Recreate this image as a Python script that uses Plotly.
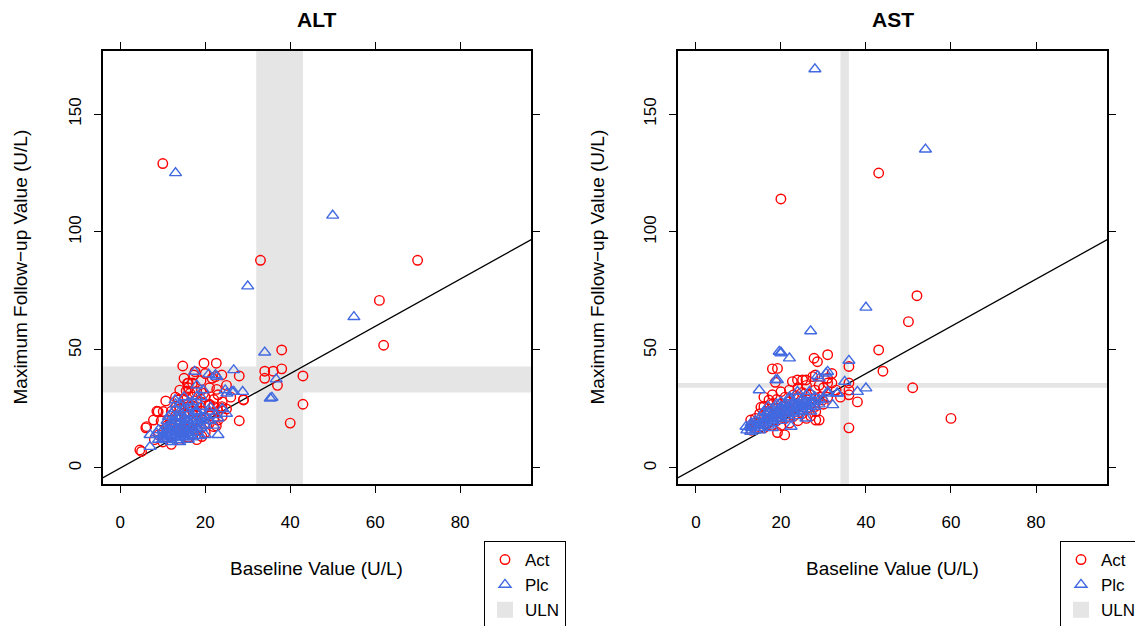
import plotly.graph_objects as go

# ---------------- data ----------------
ALT_ACT_BASE = [10, 33, 70, 61, 62, 38, 34, 36, 38, 34, 37, 43, 43, 40, 28, 28, 29,
                5, 6, 8.6, 10.7, 9.6, 14.7, 19.7, 22.6, 15.8, 15.5, 17.3, 22.4, 23.9, 22.7, 19.6,
                22.6, 23, 23.9, 13.2, 15.7, 18, 21.6, 17.6, 16, 16.4, 8.9, 7.8, 6.2, 4.6, 10.1,
                13.6, 18, 21.6, 19.1, 29, 22, 18.3, 23.9, 20.8, 18, 19.2,
                8, 9, 10, 10, 11, 11, 12, 12, 12, 12, 13, 13, 13, 14, 14, 14, 14, 15, 15, 15, 15,
                16, 16, 16, 16, 16, 17, 17, 17, 17, 17, 18, 18, 18, 19, 19, 19, 19, 20, 20, 20,
                20, 21, 21, 21, 22, 22, 23, 23, 24, 24, 25, 25, 26, 12, 13, 14, 15, 16, 18, 19,
                21, 22]
ALT_ACT_MAX = [129, 88, 88, 71, 52, 50, 41, 41, 42, 38, 35, 39, 27, 19, 20, 39, 29,
               7, 17, 24, 28.4, 19.9, 43.2, 44.4, 44.4, 35.9, 32.6, 39.4, 38.7, 39.4, 33.3, 31.6,
               17.8, 20.3, 26, 26, 29.5, 32.3, 38, 40.8, 35.9, 31.6, 23.9, 20.3, 17.5, 7.6, 23.9,
               28.8, 27.4, 23.2, 33, 28.8, 17.5, 16.1, 25.3, 26.7, 22.5, 13.3,
               12, 14, 11, 15, 13, 18, 10, 14, 20, 24, 16, 22, 30, 12, 18, 25, 33, 15, 20, 27, 38,
               13, 17, 22, 26, 34, 14, 19, 24, 30, 36, 12, 20, 26, 17, 23, 28, 37, 15, 21, 30,
               40, 19, 27, 34, 21, 29, 24, 31, 22, 28, 25, 35, 30, 17, 19, 15, 23, 19, 16, 24,
               22, 26]

ALT_PLC_BASE = [13, 50, 30, 55, 34, 36.7, 35.7, 26.7, 28.8, 26.7, 7, 7, 23, 18.8, 17.5, 20.8,
                22.7, 24.7, 19.5, 18, 12.9, 21.2, 22.4, 14.1, 11, 9, 13.3, 16.1, 22.4, 26.3,
                25.1, 19.6, 35.3, 11.3, 8.5, 10.5, 13.6, 15.6, 16.8, 17.6, 12.1,
                9, 10, 10, 11, 11, 11, 12, 12, 12, 12, 13, 13, 13, 13, 14, 14, 14, 14, 15, 15, 15,
                15, 16, 16, 16, 17, 17, 17, 17, 18, 18, 18, 19, 19, 19, 20, 20, 21, 22, 23, 24,
                25, 13, 15, 16, 18, 12, 14, 16, 20,
                10, 11, 12, 13, 13, 14, 14, 15, 15, 15, 16, 16, 16, 17, 17, 18, 18, 19, 19, 20,
                12, 13, 14, 11, 10, 17, 19, 21, 14, 16]
ALT_PLC_MAX = [125, 107, 77, 64, 49, 37.6, 29.8, 41.5, 32.3, 32.3, 9, 14, 14, 13.6, 40.8, 39.7,
               38.7, 33, 33, 30.2, 28.8, 25.7, 22.5, 21.7, 17.5, 16.1, 11.9, 13.3, 39.4, 32.3,
               31.6, 21.1, 29.5, 21.7, 14.7, 11.9, 11.1, 20.3, 16.1, 23.9, 17.5,
               12, 13, 16, 12, 15, 20, 13, 16, 19, 23, 14, 17, 20, 25, 13, 16, 19, 24, 14, 17, 21,
               25, 15, 18, 23, 13, 17, 20, 26, 15, 19, 24, 17, 20, 26, 18, 22, 20, 18, 21, 25,
               23, 27, 30, 28, 35, 11, 11, 12, 14,
               12, 14, 15, 13, 15, 14, 17, 13, 16, 19, 14, 16, 20, 15, 22, 17, 21, 18, 22, 20,
               18, 22, 21, 16, 14, 28, 30, 24, 27, 25]

AST_ACT_BASE = [20, 43, 52, 50, 43, 44, 51, 60, 36, 36, 36, 36, 36, 38, 31, 32, 31, 31, 18,
                27.8, 28.6, 18.7, 22.7, 23.9, 25.9, 27.5, 20, 20.9, 19.2, 12.9, 15.3, 17.2, 28.2,
                28.2, 24.7, 25.1, 28.1, 19.2, 29, 29.8,
                13, 14, 14, 15, 15, 16, 16, 16, 17, 17, 18, 18, 18, 18, 19, 19, 19, 20, 20, 20, 21,
                21, 21, 22, 22, 22, 22, 23, 23, 23, 24, 24, 24, 24, 25, 25, 25, 26, 26, 26, 27, 27,
                27, 28, 28, 29, 30, 30, 32, 33, 34, 14, 17, 19, 21, 23, 26, 29, 31, 16, 13]
AST_ACT_MAX = [114, 125, 73, 62, 50, 41, 34, 21, 17, 43, 36, 31, 33, 28, 48, 40, 36, 30, 42,
               46.5, 45, 36.3, 36.6, 37.3, 37.3, 38.7, 32.3, 14, 15, 20.3, 25.7, 28.8, 23.9,
               20.3, 24.6, 37.3, 39.4, 42.2, 20.3, 28.8,
               18, 17, 21, 19, 23, 17, 21, 26, 19, 24, 18, 22, 27, 31, 20, 25, 29, 18, 23, 27, 21,
               26, 30, 19, 24, 28, 33, 22, 27, 31, 20, 26, 30, 34, 23, 28, 32, 25, 29, 35, 22, 27,
               31, 26, 33, 30, 27, 34, 36, 33, 30, 19, 22, 23, 24, 25, 21, 35, 38, 30, 16]

AST_PLC_BASE = [28, 54, 40, 27, 20, 20, 22, 36, 40, 38, 35, 33.2, 32.2, 31, 31, 14.9, 18.8,
                11.8, 12.9, 25.9, 22.4, 28.6, 19.6, 30.6, 29, 31, 33.3, 26.7, 23.9, 27.8, 19.2,
                13, 14, 14, 15, 15, 16, 16, 16, 17, 17, 17, 17, 18, 18, 18, 19, 19, 19, 20, 20, 20,
                20, 21, 21, 21, 22, 22, 22, 23, 23, 23, 24, 24, 24, 25, 25, 25, 26, 26, 27, 27, 28,
                28, 29, 30, 24, 26, 22, 15, 18, 12, 13,
                14, 15, 15, 16, 16, 17, 18, 18, 19, 19, 20, 20, 21, 21, 22, 22, 23, 23, 24, 24,
                25, 25, 26, 26, 27, 28, 29, 13, 17, 20]
AST_PLC_MAX = [169, 135, 68, 58, 49, 48.6, 46.5, 45.5, 33.8, 32.3, 36.6, 31.6, 26.7, 40.8, 32.3,
               33, 37.3, 17.5, 15.4, 21, 17.5, 39, 49.3, 40.1, 38, 31.6, 31.6, 32.3, 32.3, 28.1,
               37.3,
               17, 18, 20, 18, 21, 19, 22, 24, 18, 21, 23, 26, 20, 23, 25, 21, 24, 27, 20, 22, 25,
               28, 22, 24, 27, 21, 25, 29, 23, 26, 28, 22, 25, 27, 24, 26, 29, 25, 27, 24, 28, 26,
               30, 27, 29, 30, 31, 30, 16, 17, 16, 19,
               16, 17, 19, 18, 20, 20, 19, 21, 22, 23, 21, 24, 23, 25, 23, 26, 24, 27, 24, 26,
               25, 27, 26, 28, 26, 28, 29, 18, 24, 26]

ALT_ULN = [32, 43]
AST_ULN = [34, 36]
REF_LINE = [-10, 200]

X_TICKS = [0, 20, 40, 60, 80]
Y_TICKS = [0, 50, 100, 150]

# ---------------- figure ----------------
W, H = 1135, 626
RED = "#FF0000"
BLUE = "#4169E1"
GREY = "#E5E5E5"
FONT = "Liberation Sans, Arial, Helvetica, sans-serif"

fig = go.Figure()

panels = [
    ("ALT", ALT_ACT_BASE, ALT_ACT_MAX, ALT_PLC_BASE, ALT_PLC_MAX, ALT_ULN, "x", "y", "legend"),
    ("AST", AST_ACT_BASE, AST_ACT_MAX, AST_PLC_BASE, AST_PLC_MAX, AST_ULN, "x2", "y2", "legend2"),
]

for name, ab, am, pb, pm, uln, xa, ya, lg in panels:
    fig.add_trace(go.Scatter(x=REF_LINE, y=REF_LINE, mode="lines", xaxis=xa, yaxis=ya,
                             line=dict(color="black", width=1.3), showlegend=False,
                             hoverinfo="skip"))
    fig.add_trace(go.Scatter(x=ab, y=am, mode="markers", name="Act", xaxis=xa, yaxis=ya,
                             legend=lg,
                             marker=dict(symbol="circle-open", size=9.5, color=RED,
                                         line=dict(width=1.4, color=RED))))
    fig.add_trace(go.Scatter(x=pb, y=pm, mode="markers", name="Plc", xaxis=xa, yaxis=ya,
                             legend=lg,
                             marker=dict(symbol="triangle-up-open", size=10.5, color=BLUE,
                                         line=dict(width=1.4, color=BLUE))))
    fig.add_trace(go.Scatter(x=[None], y=[None], mode="markers", name="ULN", xaxis=xa, yaxis=ya,
                             legend=lg,
                             marker=dict(symbol="square", size=18, color=GREY,
                                         line=dict(width=0))))
    # ULN bands
    fig.add_shape(type="rect", xref=xa, yref=ya + " domain", x0=uln[0], x1=uln[1], y0=0, y1=1,
                  fillcolor=GREY, line=dict(width=0), layer="below")
    fig.add_shape(type="rect", xref=xa + " domain", yref=ya, x0=0, x1=1, y0=uln[0], y1=uln[1],
                  fillcolor=GREY, line=dict(width=0), layer="below")

L1, R1 = 102.5, 531
L2, R2 = 678, 1107
TOP, BOT = 51, 484

axis_common = dict(showline=True, linecolor="black", linewidth=1.5, mirror="ticks",
                   ticks="outside", ticklen=7, tickwidth=1.3, tickcolor="black",
                   showgrid=False, zeroline=False,
                   tickfont=dict(family=FONT, size=17, color="black"))

fig.update_layout(
    width=W, height=H,
    margin=dict(l=0, r=0, t=0, b=0, autoexpand=False),
    paper_bgcolor="white", plot_bgcolor="white",
    font=dict(family=FONT, color="black"),
    xaxis=dict(domain=[L1 / W, R1 / W], range=[-4.2, 96.7], tickvals=X_TICKS,
               ticklabelstandoff=15, anchor="y", **axis_common),
    yaxis=dict(domain=[1 - BOT / H, 1 - TOP / H], range=[-6.8, 176.7], tickvals=Y_TICKS,
               tickangle=-90, ticklabelstandoff=6, anchor="x", **axis_common),
    xaxis2=dict(domain=[L2 / W, R2 / W], range=[-4.2, 96.7], tickvals=X_TICKS,
                ticklabelstandoff=15, anchor="y2", **axis_common),
    yaxis2=dict(domain=[1 - BOT / H, 1 - TOP / H], range=[-6.8, 176.7], tickvals=Y_TICKS,
                tickangle=-90, ticklabelstandoff=6, anchor="x2", **axis_common),
    legend=dict(x=484 / W, y=1 - 541 / H, xanchor="left", yanchor="top",
                bordercolor="black", borderwidth=1, bgcolor="white",
                font=dict(family=FONT, size=17, color="black"), itemsizing="trace",
                tracegroupgap=0),
    legend2=dict(x=1060 / W, y=1 - 541 / H, xanchor="left", yanchor="top",
                 bordercolor="black", borderwidth=1, bgcolor="white",
                 font=dict(family=FONT, size=17, color="black"), itemsizing="trace",
                 tracegroupgap=0),
    showlegend=True,
)

ann = []
for name, cx in (("ALT", (L1 + R1) / 2), ("AST", (L2 + R2) / 2)):
    ann.append(dict(text="<b>%s</b>" % name, x=cx / W, y=1 - 20 / H, xref="paper", yref="paper",
                    showarrow=False, xanchor="center", yanchor="middle",
                    font=dict(family=FONT, size=21, color="black")))
    ann.append(dict(text="Baseline Value (U/L)", x=cx / W, y=1 - 568 / H, xref="paper",
                    yref="paper", showarrow=False, xanchor="center", yanchor="middle",
                    font=dict(family=FONT, size=19, color="black")))
for lx in (20, 597):
    ann.append(dict(text="Maximum Follow\u2212up Value (U/L)", x=lx / W, y=1 - (TOP + BOT) / 2 / H,
                    xref="paper", yref="paper", showarrow=False, xanchor="center",
                    yanchor="middle", textangle=-90,
                    font=dict(family=FONT, size=19, color="black")))
fig.update_layout(annotations=ann)

fig.write_html("out.html")
